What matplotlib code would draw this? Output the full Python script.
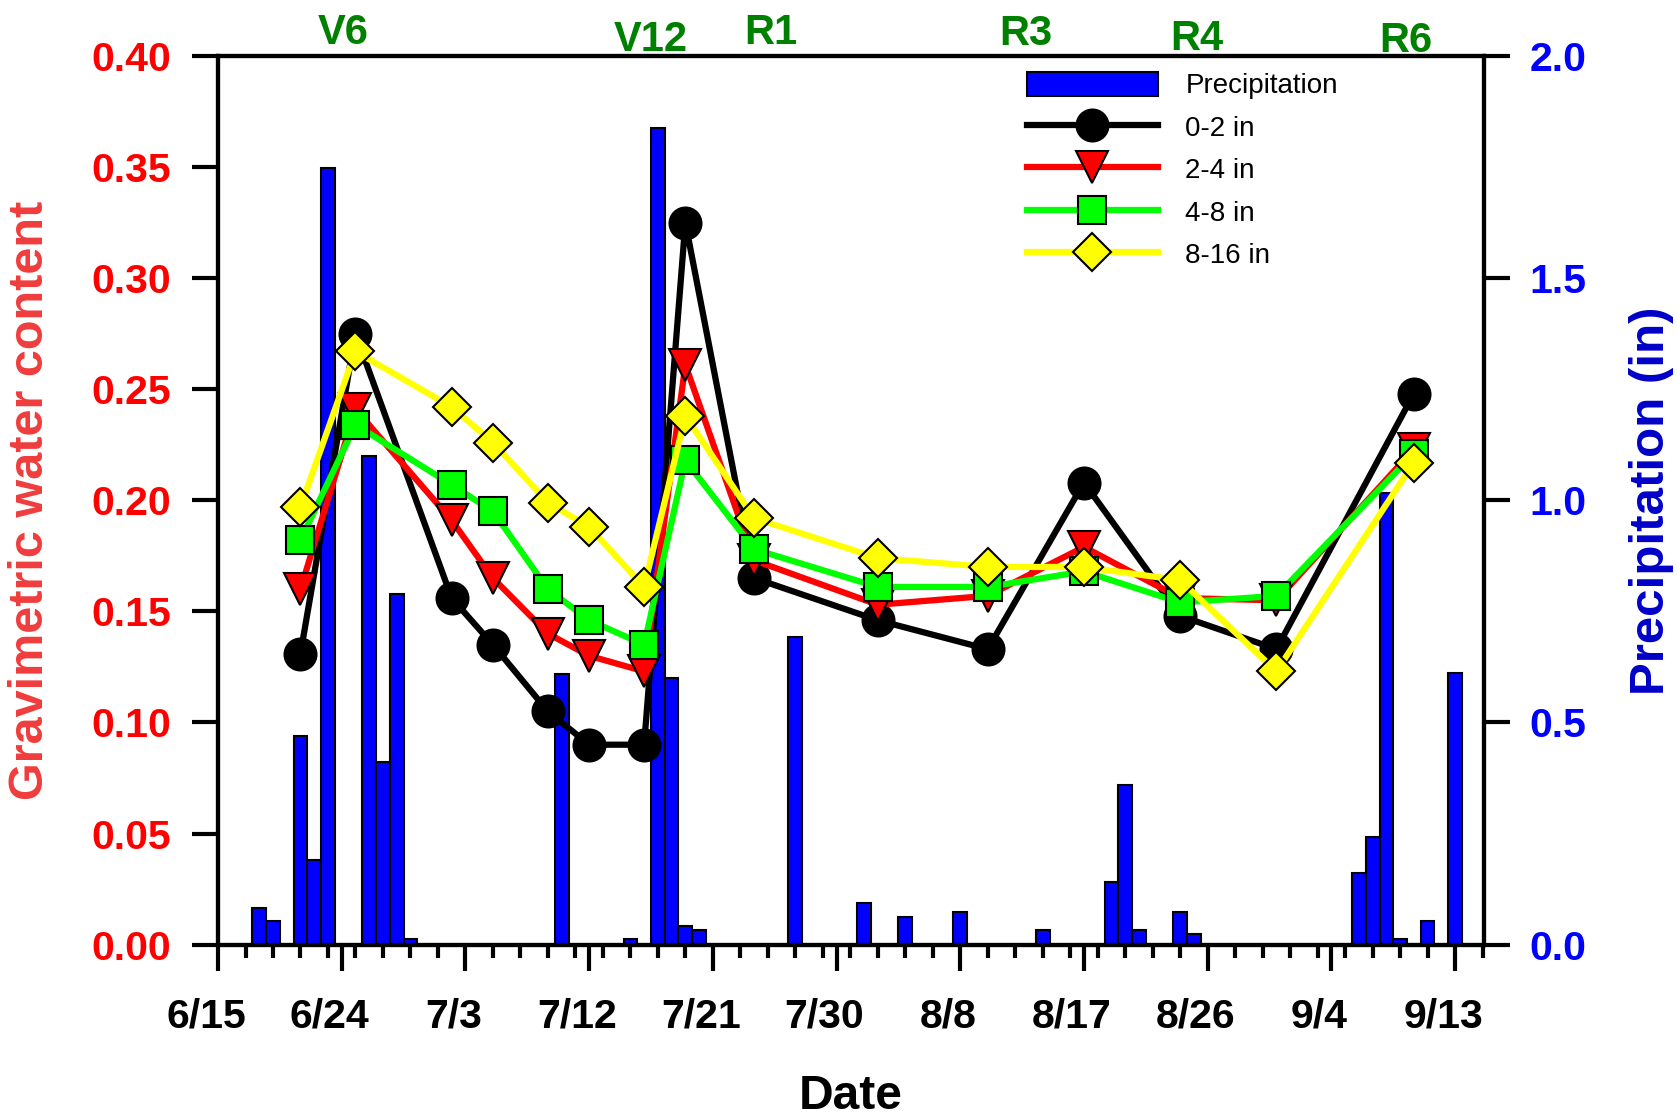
import matplotlib
matplotlib.use('Agg')
import matplotlib.pyplot as plt
import matplotlib.transforms as mtransforms
from matplotlib.patches import Patch
from matplotlib.lines import Line2D
import numpy as np
import pandas as pd

plt.rcParams['font.family'] = ['Liberation Sans', 'DejaVu Sans']
plt.rcParams['font.weight'] = 'bold'

start = pd.Timestamp('2015-06-15')

# sampling dates for soil water content
sample_dates = ['6/21', '6/25', '7/2', '7/5', '7/9', '7/12', '7/16', '7/19',
                '7/24', '8/2', '8/10', '8/17', '8/24', '8/31', '9/10']
swc_0_2 = [0.131, 0.275, 0.156, 0.135, 0.105, 0.090, 0.090, 0.325,
           0.165, 0.146, 0.133, 0.208, 0.148, 0.133, 0.248]
swc_2_4 = [0.160, 0.241, 0.191, 0.165, 0.140, 0.130, 0.123, 0.261,
           0.173, 0.153, 0.157, 0.179, 0.156, 0.155, 0.223]
swc_4_8 = [0.182, 0.234, 0.207, 0.195, 0.160, 0.146, 0.135, 0.218,
           0.178, 0.161, 0.161, 0.168, 0.154, 0.157, 0.221]
swc_8_16 = [0.197, 0.267, 0.242, 0.226, 0.199, 0.188, 0.161, 0.238,
            0.192, 0.174, 0.170, 0.170, 0.164, 0.123, 0.217]

# daily precipitation (in)
rain_dates = ['6/18', '6/19', '6/21', '6/22', '6/23', '6/26', '6/27', '6/28',
              '6/29', '7/10', '7/15', '7/17', '7/18', '7/19', '7/20', '7/27',
              '8/1', '8/4', '8/8', '8/14', '8/19', '8/20', '8/21', '8/24',
              '8/25', '9/6', '9/7', '9/8', '9/9', '9/11', '9/13']
rain = [0.083, 0.053, 0.470, 0.190, 1.748, 1.099, 0.410, 0.790,
        0.013, 0.610, 0.013, 1.838, 0.599, 0.041, 0.032, 0.693,
        0.093, 0.062, 0.073, 0.032, 0.142, 0.360, 0.032, 0.073,
        0.023, 0.162, 0.242, 1.017, 0.013, 0.054, 0.612]

# growth stages
stages = ['V6', 'V12', 'R1', 'R3', 'R4', 'R6']
stage_day = [9.1, 31.5, 40.2, 58.8, 71.2, 86.4]
stage_y = [1.026, 1.018, 1.026, 1.025, 1.019, 1.017]


def to_days(dates):
    d = pd.to_datetime(['2015/' + s for s in dates], format='%Y/%m/%d')
    return np.array((d - start).days, dtype=float)


x_swc = to_days(sample_dates)
x_rain = to_days(rain_dates)

fig = plt.figure(figsize=(16.77, 11.19), dpi=100)
ax = fig.add_axes([0.130, 0.1558, 0.7549, 0.7942])
ax2 = ax.twinx()
ax.set_zorder(ax2.get_zorder() + 1)
ax.patch.set_visible(False)

# precipitation bars on right axis
ax2.bar(x_rain, rain, width=1.0, color='#0000FF', edgecolor='black', linewidth=1.5)

series = [
    (swc_0_2, 'black', 'o', 23, '0-2 in'),
    (swc_2_4, '#FF0000', 'v', 23, '2-4 in'),
    (swc_4_8, '#00FF00', 's', 20, '4-8 in'),
    (swc_8_16, '#FFFF00', 'D', 19, '8-16 in'),
]
handles = [Patch(facecolor='#0000FF', edgecolor='black', linewidth=1.5, label='Precipitation')]
for vals, col, mk, ms, lab in series:
    ax.plot(x_swc, vals, color=col, lw=4.5, marker=mk, ms=ms,
            mfc=col, mec='black', mew=1.5, label=lab)
    handles.append(Line2D([], [], color=col, lw=4.5, marker=mk, ms=ms,
                          mfc=col, mec='black', mew=1.5, label=lab))

ax.set_xlim(0, 92.1)
ax.set_ylim(0, 0.40)
ax2.set_ylim(0, 2.0)

ax.xaxis.set_major_locator(plt.MultipleLocator(9))
ax.xaxis.set_minor_locator(plt.MultipleLocator(2))
ax.xaxis.set_major_formatter(plt.FuncFormatter(
    lambda v, p: (start + pd.Timedelta(days=int(round(v)))).strftime('%-m/%-d')))
ax.yaxis.set_major_locator(plt.MultipleLocator(0.05))
ax.yaxis.set_major_formatter(plt.FormatStrFormatter('%.2f'))
ax2.yaxis.set_major_locator(plt.MultipleLocator(0.5))
ax2.yaxis.set_major_formatter(plt.FormatStrFormatter('%.1f'))

ax.tick_params(axis='x', which='major', length=19, width=3, pad=19,
               labelsize=29.5, direction='out')
ax.tick_params(axis='x', which='minor', length=9.5, width=3, direction='out')
ax.tick_params(axis='y', which='major', length=19, width=3, pad=15,
               labelsize=29.5, labelcolor='#FF0000', direction='out')
ax2.tick_params(axis='y', which='major', length=19, width=3, pad=14,
                labelsize=29.5, labelcolor='#0000FF', direction='out')
ax2.tick_params(axis='x', which='both', length=0)

for a in (ax, ax2):
    for sp in a.spines.values():
        sp.set_linewidth(3)

# shift date labels slightly left as in the original
offset = mtransforms.ScaledTranslation(-12 / 100, 0, fig.dpi_scale_trans)
for lbl in ax.get_xticklabels():
    lbl.set_transform(lbl.get_transform() + offset)

ax.set_xlabel('Date', fontsize=34.5, fontweight='bold', va='center')
ax.xaxis.set_label_coords(0.5, -0.171)
ax.set_ylabel('Gravimetric water content', fontsize=35, fontweight='bold',
              color='#F03C3C', va='center')
ax.yaxis.set_label_coords(-0.1485, 0.5)
ax2.set_ylabel('Precipitation (in)', fontsize=35.5, fontweight='bold',
               color='#0000C8', va='center', rotation=90)
ax2.yaxis.set_label_coords(1.1327, 0.5)

for name, d, yy in zip(stages, stage_day, stage_y):
    ax.text(d, yy, name, transform=ax.get_xaxis_transform(), ha='center',
            va='center', fontsize=30, fontweight='bold', color='#008000')

leg = ax.legend(handles=handles, loc='upper left', bbox_to_anchor=(0.639, 0.9825),
                frameon=False, borderpad=0, borderaxespad=0,
                handlelength=4.7, handleheight=1.0, handletextpad=1.0,
                labelspacing=0.52, prop={'size': 20, 'weight': 'normal'})

fig.savefig('out.png', dpi=100)
